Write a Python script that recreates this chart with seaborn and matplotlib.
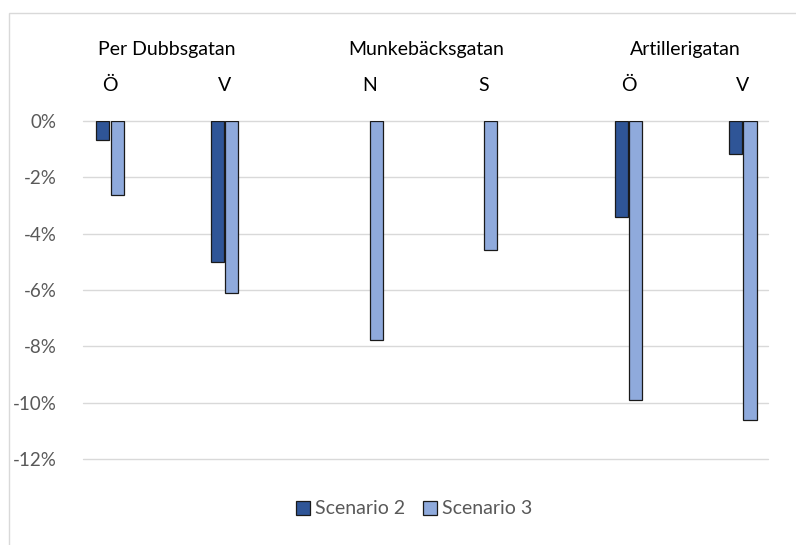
import numpy as np
import pandas as pd
import matplotlib.pyplot as plt
import matplotlib.ticker as mticker
from matplotlib.patches import Rectangle
import seaborn as sns

# values (fraction change)
streets = ["Per Dubbsgatan", "Per Dubbsgatan", "Munkebäcksgatan",
           "Munkebäcksgatan", "Artillerigatan", "Artillerigatan"]
directions = ["Ö", "V", "N", "S", "Ö", "V"]
scenario2 = [-0.0069, -0.0501, np.nan, np.nan, -0.0340, -0.0117]
scenario3 = [-0.0262, -0.0612, -0.0778, -0.0458, -0.0989, -0.1062]
series_names = ["Scenario 2", "Scenario 3"]
yticks = [0, -0.02, -0.04, -0.06, -0.08, -0.10, -0.12]

# layout: wider gap between street groups than within a group
group_step = 2.27
group_order = list(dict.fromkeys(streets))
pos = []
sub = 0
for i, st in enumerate(streets):
    if i > 0 and streets[i - 1] != st:
        sub = 0
    pos.append(group_order.index(st) * group_step + sub)
    sub += 1

df = pd.DataFrame({"pos": pos * 2,
                   "value": scenario2 + scenario3,
                   "series": [series_names[0]] * 6 + [series_names[1]] * 6})

sns.set_style("white")
plt.rcParams['font.family'] = ['Lato', 'DejaVu Sans']

fig = plt.figure(figsize=(7.96, 5.45), dpi=100)
ax = fig.add_axes([83 / 796, 1 - 459 / 545, (768 - 83) / 796, (459 - 121) / 545])

sns.barplot(data=df, x="pos", y="value", hue="series", native_scale=True,
            palette=["#2F5597", "#8FAADC"], saturation=1, width=0.25, gap=0.08,
            edgecolor="#1a1a1a", linewidth=0.9, ax=ax, legend=True)

ax.set_ylim(-0.12, 0)
ax.set_xlim(-0.237, pos[-1] + 0.22)
ax.set_yticks(yticks)
ax.yaxis.set_major_formatter(mticker.FuncFormatter(lambda v, _: f"{round(v * 100):d}%"))
ax.set_xticks([])
ax.set_xlabel("")
ax.set_ylabel("")
ax.grid(axis="y", color="#d9d9d9", lw=1)
for gl in ax.get_ygridlines():
    gl.set_clip_on(False)
ax.set_axisbelow(True)
for s in ax.spines.values():
    s.set_visible(False)
ax.tick_params(axis="y", length=0, pad=19, labelsize=13.5, labelcolor="#595959")
ax.tick_params(axis="x", length=0)

# category labels above the plot
for p, d in zip(pos, directions):
    ax.text(p, 1.104, d, transform=ax.get_xaxis_transform(), ha="center",
            va="center", fontsize=14, color="black")
for st in group_order:
    gp = np.mean([p for p, s in zip(pos, streets) if s == st])
    ax.text(gp, 1.213, st, transform=ax.get_xaxis_transform(), ha="center",
            va="center", fontsize=14, color="black")

handles, labels = ax.get_legend_handles_labels()
ax.legend(handles, labels, loc="center", bbox_to_anchor=(414 / 796, 1 - 509 / 545),
          bbox_transform=fig.transFigure, ncol=2, frameon=False, fontsize=14,
          labelcolor="#595959", handlelength=0.75, handleheight=0.75,
          handletextpad=0.25, columnspacing=0.9, borderpad=0)

# chart area border (only top/left visible in the crop)
fig.patches.append(Rectangle((9 / 796, -0.1), 1.2, 1 - 13 / 545 + 0.1,
                             transform=fig.transFigure, fill=False,
                             edgecolor="#d9d9d9", lw=1))

fig.savefig("out.png", dpi=100)
